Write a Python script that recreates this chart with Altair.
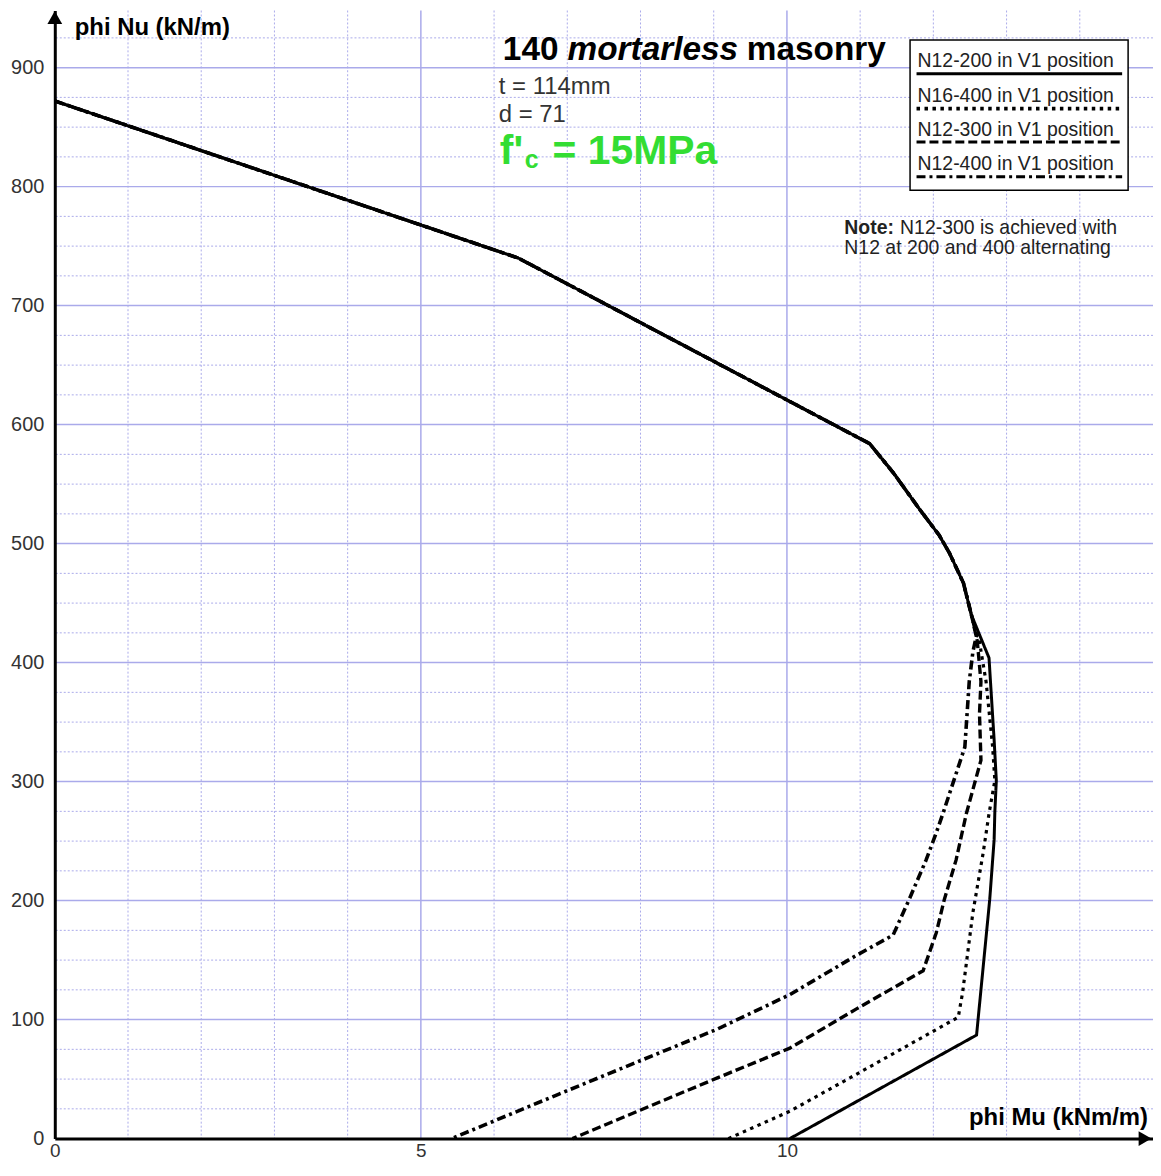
import altair as alt
import pandas as pd

# ---------------- data ----------------
series_names = [
    "N12-200 in V1 position",
    "N16-400 in V1 position",
    "N12-300 in V1 position",
    "N12-400 in V1 position",
]

# shared upper branch of the interaction curves (phi Mu kNm/m, phi Nu kN/m)
shared_mu = [0.0, 6.33, 11.13, 11.46, 11.81, 12.08, 12.22, 12.41, 12.52]
shared_nu = [872, 740, 584, 559, 529, 507, 492, 467, 440]

# lower branches, continuing from the shared part down to phi Nu = 0
n12_200_mu = [12.76, 12.83, 12.86, 12.84, 12.83, 12.77, 12.59, 10.04]
n12_200_nu = [404, 335, 301, 275, 251, 201, 87, 0]

n16_400_mu = [12.62, 12.72, 12.81, 12.84, 12.76, 12.68, 12.54, 12.40, 12.34, 10.86, 10.04, 9.20]
n16_400_nu = [421, 384, 329, 301, 273, 240, 190, 123, 102, 51, 23, 0]

n12_300_mu = [12.60, 12.65, 12.63, 12.65, 12.45, 12.31, 12.15, 12.04, 11.86, 10.95, 10.04, 9.05, 7.07]
n12_300_nu = [418, 384, 357, 318, 273, 234, 201, 173, 141, 109, 76, 51, 0]

n12_400_mu = [12.59, 12.54, 12.49, 12.43, 12.13, 12.04, 11.90, 11.67, 11.45, 10.95, 10.04, 9.05, 6.87, 5.42]
n12_400_nu = [423, 409, 384, 329, 273, 257, 234, 201, 171, 154, 121, 92, 37, 0]

lower_mu = [n12_200_mu, n16_400_mu, n12_300_mu, n12_400_mu]
lower_nu = [n12_200_nu, n16_400_nu, n12_300_nu, n12_400_nu]

x_tick_values = [0, 5, 10]
y_tick_values = [0, 100, 200, 300, 400, 500, 600, 700, 800, 900]

# ---------------- build table ----------------
rows = []
for name, mu, nu in zip(series_names, lower_mu, lower_nu):
    all_mu = shared_mu + mu
    all_nu = shared_nu + nu
    for i, (m, n) in enumerate(zip(all_mu, all_nu)):
        rows.append({"series": name, "mu": m, "nu": n, "i": i})
df = pd.DataFrame(rows)

dashes = [[1, 0], [3.5, 4.5], [9, 4], [9, 4, 3, 4]]
widths = [3, 3.6, 3, 3]

FONT = "Liberation Sans"
PLOT_H = 1133
xs = alt.Scale(domain=[0, 15], nice=False, zero=False)
ys = alt.Scale(domain=[0, 948], nice=False, zero=False)

axis_common = dict(
    ticks=False, grid=False, domain=True, domainColor="black", domainWidth=3,
    labelFont=FONT, labelColor="#333333", labelFlush=False,
    labelOverlap=False, title=None, zindex=1,
)
x_axis = alt.Axis(values=x_tick_values, labelPadding=3, labelFontSize=19, **axis_common)
y_axis = alt.Axis(values=y_tick_values, labelPadding=11, labelFontSize=20, **axis_common)

# ---------------- grid ----------------
h_minor = [v for v in range(25, 950, 25) if v % 100]
h_major = [v for v in range(100, 950, 100)]
v_minor = [v for v in range(1, 15) if v % 5]
v_major = [5, 10]

grid_col = "#aaaaea"
g1 = alt.Chart(pd.DataFrame({"v": h_minor})).mark_rule(
    color=grid_col, strokeDash=[2, 2], strokeWidth=1
).encode(y=alt.Y("v:Q", scale=ys, axis=y_axis))
g2 = alt.Chart(pd.DataFrame({"v": h_major})).mark_rule(
    color=grid_col, strokeWidth=1.5
).encode(y=alt.Y("v:Q", scale=ys, axis=y_axis))
g3 = alt.Chart(pd.DataFrame({"v": v_minor})).mark_rule(
    color=grid_col, strokeDash=[2, 2], strokeWidth=1
).encode(x=alt.X("v:Q", scale=xs, axis=x_axis))
g4 = alt.Chart(pd.DataFrame({"v": v_major})).mark_rule(
    color=grid_col, strokeWidth=1.5
).encode(x=alt.X("v:Q", scale=xs, axis=x_axis))

# ---------------- curves ----------------
lines = alt.Chart(df).mark_line(color="black").encode(
    x=alt.X("mu:Q", scale=xs, axis=x_axis),
    y=alt.Y("nu:Q", scale=ys, axis=y_axis),
    strokeDash=alt.StrokeDash("series:N", scale=alt.Scale(domain=series_names, range=dashes), legend=None),
    strokeWidth=alt.StrokeWidth("series:N", scale=alt.Scale(domain=series_names, range=widths), legend=None),
    detail="series:N",
    order="i:Q",
)

# ---------------- annotations ----------------
one = alt.Data(values=[{}])


def txt(s, x, y, size, weight="normal", style="normal", color="black", align="left", baseline="alphabetic"):
    return alt.Chart(one).mark_text(
        text=s, font=FONT, fontSize=size, fontWeight=weight, fontStyle=style,
        color=color, align=align, baseline=baseline,
    ).encode(x=alt.value(x), y=alt.value(y))


layers = [g1, g2, g3, g4, lines]

# legend box
layers.append(
    alt.Chart(one).mark_rect(fill="white", stroke="black", strokeWidth=1.5).encode(
        x=alt.value(859), x2=alt.value(1078), y=alt.value(29.5), y2=alt.value(180.5)
    )
)
leg_text_y = [57, 91.5, 126, 160.5]
leg_line_y = [63.5, 98.5, 132, 167]
for name, d, w, ty, ly in zip(series_names, dashes, widths, leg_text_y, leg_line_y):
    layers.append(txt(name, 866.5, ty, 19.5, color="#222222"))
    layers.append(
        alt.Chart(one).mark_rule(color="black", strokeWidth=w, strokeDash=d).encode(
            x=alt.value(865.5), x2=alt.value(1072), y=alt.value(ly)
        )
    )

# axis titles
layers.append(txt("phi Nu (kN/m)", 20, 25, 24, weight="bold"))
layers.append(txt("phi Mu (kNm/m)", 1098, PLOT_H - 14, 24, weight="bold", align="right"))

# title block
layers.append(txt("140", 450, 50, 33.5, weight="bold"))
layers.append(txt("mortarless", 515, 50, 33.5, weight="bold", style="italic"))
layers.append(txt("masonry", 695, 50, 33.5, weight="bold"))
layers.append(txt("t = 114mm", 446, 84, 24, color="#333333"))
layers.append(txt("d = 71", 446, 112, 24, color="#333333"))
green = "#33dd33"
layers.append(txt("f'", 447, 154, 41, weight="bold", color=green))
layers.append(txt("c", 472, 158, 25, weight="bold", color=green))
layers.append(txt("= 15MPa", 500, 154, 41, weight="bold", color=green))

# note
layers.append(txt("Note:", 793, 224, 19.5, weight="bold", color="#222222"))
layers.append(txt("N12-300 is achieved with", 849, 224, 19.5, color="#222222"))
layers.append(txt("N12 at 200 and 400 alternating", 793, 245, 19.5, color="#222222"))

# axis arrows
layers.append(
    alt.Chart(one).mark_point(shape="triangle-up", filled=True, color="black", size=220, opacity=1).encode(
        x=alt.value(0), y=alt.value(7)
    )
)
layers.append(
    alt.Chart(one).mark_point(shape="triangle-right", filled=True, color="black", size=220, opacity=1).encode(
        x=alt.value(1095), y=alt.value(PLOT_H)
    )
)

chart = alt.layer(*layers).properties(
    width=1103,
    height=PLOT_H,
    autosize=alt.AutoSizeParams(type="none"),
    padding={"left": 47, "top": 0, "right": 0, "bottom": 23},
    background="white",
).configure_view(stroke=None)

chart.save("out.html", embed_options={"renderer": "svg", "actions": False})
